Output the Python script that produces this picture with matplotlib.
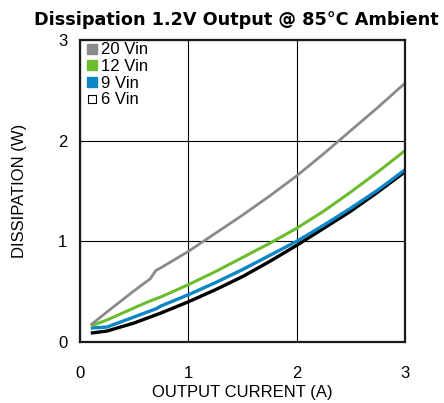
import numpy as np
import matplotlib
matplotlib.use("Agg")
import matplotlib.pyplot as plt
from matplotlib.lines import Line2D

plt.rcParams['font.family'] = ['Liberation Sans', 'DejaVu Sans']

# output current (A)
current = [0.1, 0.25, 0.5, 0.65, 0.7, 0.75, 1.0, 1.25, 1.5, 1.75, 2.0, 2.25, 2.5, 2.75, 3.0]

# dissipation (W) per input voltage
vin20 = [0.17, 0.30, 0.51, 0.63, 0.71, 0.74, 0.90, 1.08, 1.26, 1.45, 1.65, 1.87, 2.10, 2.33, 2.57]
vin12 = [0.16, 0.22, 0.34, 0.41, 0.43, 0.45, 0.57, 0.70, 0.84, 0.98, 1.13, 1.30, 1.49, 1.69, 1.90]
vin9 = [0.14, 0.15, 0.25, 0.31, 0.33, 0.36, 0.47, 0.59, 0.72, 0.86, 1.00, 1.16, 1.33, 1.51, 1.71]
vin6 = [0.09, 0.11, 0.19, 0.25, 0.27, 0.29, 0.40, 0.52, 0.65, 0.80, 0.96, 1.13, 1.30, 1.49, 1.69]

labels = ['20 Vin', '12 Vin', '9 Vin', '6 Vin']
ticks = [0, 1, 2, 3]

c_gray = '#8a8a8a'
c_green = '#6bbd2e'
c_blue = '#0d86c6'

fig = plt.figure(figsize=(4.44, 4.03), dpi=100)
ax = fig.add_axes([0.180, 0.151, 0.732, 0.750])

ax.plot(current, vin6, color='black', lw=2.4, solid_capstyle='butt')
ax.plot(current, vin9, color=c_blue, lw=2.4, solid_capstyle='butt')
ax.plot(current, vin12, color=c_green, lw=2.2, solid_capstyle='butt')
ax.plot(current, vin20, color=c_gray, lw=2.0, solid_capstyle='butt')

ax.set_xlim(0, 3)
ax.set_ylim(0, 3)
ax.set_xticks(ticks)
ax.set_yticks(ticks)
ax.tick_params(axis='both', length=0, labelsize=12)
ax.tick_params(axis='x', pad=17)
ax.tick_params(axis='y', pad=9)
ax.grid(True, color='black', lw=0.8)
for s in ax.spines.values():
    s.set_linewidth(1.6)
    s.set_color('#1a1a1a')

# title is a bit wider than Arial bold in the original, DejaVu comes closer
fig.text(236 / 444, 1 - 25 / 403, 'Dissipation 1.2V Output @ 85\u00b0C Ambient',
         fontsize=12.7, fontweight='bold', family='DejaVu Sans',
         ha='center', va='baseline')
ax.set_xlabel('OUTPUT CURRENT (A)', fontsize=12)
ax.set_ylabel('DISSIPATION (W)', fontsize=12)
ax.xaxis.set_label_coords(0.5, -0.142)
ax.yaxis.set_label_coords(-0.163, 0.5)

handles = [
    Line2D([], [], ls='none', marker='s', ms=7, mfc=c_gray, mec=c_gray),
    Line2D([], [], ls='none', marker='s', ms=7, mfc=c_green, mec=c_green),
    Line2D([], [], ls='none', marker='s', ms=7, mfc=c_blue, mec=c_blue),
    Line2D([], [], ls='none', marker='s', ms=6, mfc='white', mec='black', mew=0.8),
]
leg = ax.legend(handles, labels, loc='upper left', bbox_to_anchor=(-0.01, 1.025),
                frameon=False, fontsize=12, handlelength=0.6, handletextpad=0.25,
                labelspacing=0.1, borderaxespad=0.2)
leg.set_zorder(5)

fig.savefig('out.png', dpi=100)
